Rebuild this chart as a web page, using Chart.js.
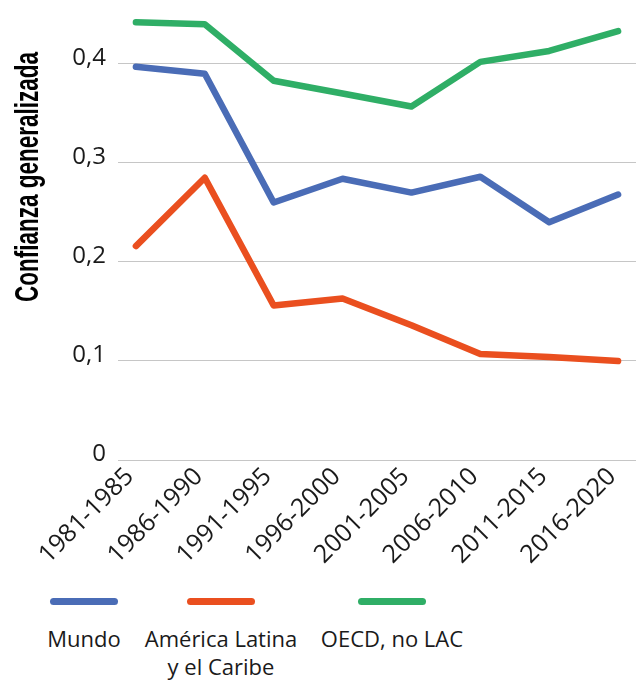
<!DOCTYPE html>
<html>
<head>
<meta charset="utf-8">
<script src="https://cdn.jsdelivr.net/npm/chart.js@4/dist/chart.umd.min.js"></script>
<style>
  body { margin: 0; background: #fff; font-family: "Open Sans", sans-serif; }
  #wrap { position: relative; width: 636px; height: 590px; }
  #legend { position: relative; width: 636px; height: 92px; }
  .item { position: absolute; top: 0; text-align: center; color: #1a1a1a; font-size: 22px; line-height: 28px; }
  .item span { display: block; width: 68px; height: 7px; border-radius: 4px; margin: 8px auto 19px auto; }
</style>
</head>
<body>
<div id="wrap"><canvas id="lineChart"></canvas></div>
<div id="legend"></div>
<script>
const periodos = ['1981-1985', '1986-1990', '1991-1995', '1996-2000', '2001-2005', '2006-2010', '2011-2015', '2016-2020']
const mundo = [0.397, 0.390, 0.260, 0.284, 0.270, 0.286, 0.240, 0.268]
const americaLatina = [0.216, 0.285, 0.156, 0.163, 0.136, 0.107, 0.104, 0.100]
const oecd = [0.442, 0.440, 0.383, 0.370, 0.357, 0.402, 0.413, 0.433]
const yTicks = [0, 0.1, 0.2, 0.3, 0.4]
const yTitle = 'Confianza generalizada'

const series = [
  { label: 'Mundo', data: mundo, color: '#4a6cb6', legend: 'Mundo' },
  { label: 'América Latina y el Caribe', data: americaLatina, color: '#ea4f1f', legend: 'América Latina<br>y el Caribe' },
  { label: 'OECD, no LAC', data: oecd, color: '#2fae66', legend: 'OECD, no LAC' }
]

const toPoints = arr => arr.map((v, i) => ({ x: i, y: v }))

// condensed bold y axis title (no condensed font installed, so squeeze it)
const condensedTitle = {
  id: 'condensedTitle',
  afterDraw(chart) {
    const ctx = chart.ctx
    ctx.save()
    ctx.font = 'bold 33px "Liberation Sans", Arial, sans-serif'
    const w = ctx.measureText(yTitle).width
    ctx.translate(38, 302)
    ctx.rotate(-Math.PI / 2)
    ctx.scale(250 / w, 1)
    ctx.fillStyle = '#000'
    ctx.textBaseline = 'alphabetic'
    ctx.textAlign = 'left'
    ctx.fillText(yTitle, 0, 0)
    ctx.restore()
  }
}

const data = {
  datasets: series.map(s => ({
    label: s.label,
    data: toPoints(s.data),
    borderColor: s.color,
    backgroundColor: s.color,
    borderWidth: 6.5,
    pointRadius: 0,
    tension: 0,
    borderCapStyle: 'round',
    borderJoinStyle: 'round',
    clip: false
  }))
}

const config = {
  type: 'line',
  data: data,
  plugins: [condensedTitle],
  options: {
    responsive: true,
    maintainAspectRatio: false,
    animation: false,
    layout: { padding: { top: 48, left: 0, right: 0, bottom: 0 } },
    plugins: { legend: { display: false }, tooltip: { enabled: false } },
    scales: {
      x: {
        type: 'linear',
        min: -0.26,
        max: 7.26,
        grid: { display: false },
        border: { display: false },
        ticks: {
          stepSize: 1,
          includeBounds: false,
          autoSkip: false,
          maxRotation: 45,
          minRotation: 45,
          color: '#1a1a1a',
          font: { family: 'Open Sans', size: 25 },
          padding: -6,
          labelOffset: -6,
          callback: v => periodos[v] ?? ''
        },
        afterFit: s => { s.height = 130 }
      },
      y: {
        min: 0,
        max: 0.416,
        afterBuildTicks: s => { s.ticks = yTicks.map(v => ({ value: v })) },
        grid: { color: '#c6c6c6', lineWidth: 1, drawTicks: false },
        border: { display: false },
        ticks: {
          includeBounds: false,
          color: '#1a1a1a',
          font: { family: 'Open Sans', size: 24 },
          padding: 12,
          labelOffset: -6,
          callback: v => v === 0 ? '0' : v.toFixed(1).replace('.', ',')
        },
        afterFit: s => { s.width = 118 }
      }
    }
  }
}

const myChart = new Chart(document.getElementById('lineChart'), config)

// legend: swatch above label
const legendPos = [84, 221, 392]
const legend = document.getElementById('legend')
series.forEach((s, i) => {
  const d = document.createElement('div')
  d.className = 'item'
  d.style.left = (legendPos[i] - 100) + 'px'
  d.style.width = '200px'
  d.innerHTML = '<span style="background:' + s.color + '"></span>' + s.legend
  legend.appendChild(d)
})
</script>
</body>
</html>
